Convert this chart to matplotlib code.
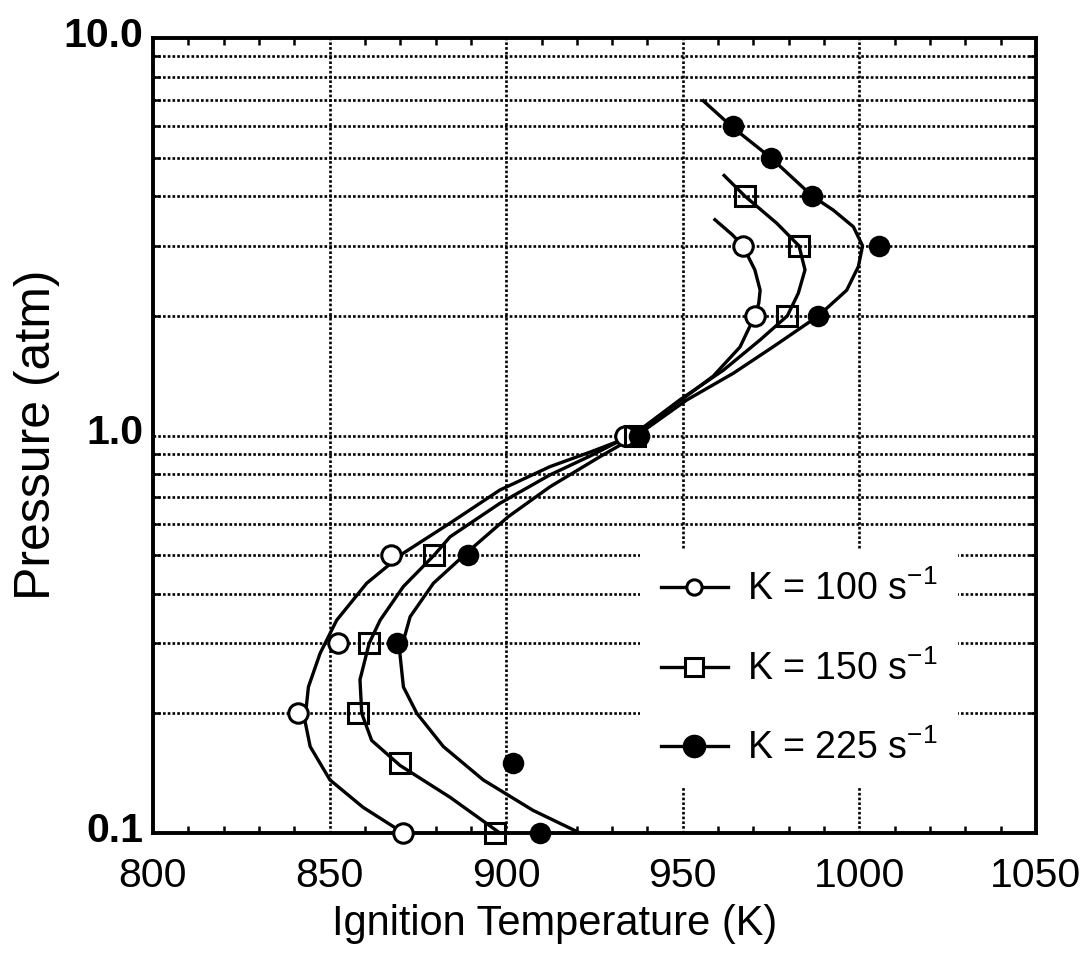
import matplotlib
matplotlib.use("Agg")
import matplotlib.pyplot as plt
from matplotlib.ticker import FixedLocator, FixedFormatter, NullFormatter
import matplotlib.transforms as mtransforms

plt.rcParams['font.family'] = ['Liberation Sans', 'DejaVu Sans']

# ---------------- data ----------------
# measured points: ignition temperature (K) vs pressure (atm)
m100_T = [967.0, 970.4, 933.5, 867.3, 852.5, 841.1, 870.9]
m100_P = [3.0, 2.0, 1.0, 0.5, 0.3, 0.2, 0.1]

m150_T = [967.6, 982.9, 979.6, 936.5, 879.6, 861.2, 858.1, 869.9, 896.8]
m150_P = [4.0, 3.0, 2.0, 1.0, 0.5, 0.3, 0.2, 0.15, 0.1]

m225_T = [964.1, 974.9, 986.7, 1005.6, 988.4, 937.5, 889.3, 869.2, 901.8, 909.6]
m225_P = [6.0, 5.0, 4.0, 3.0, 2.0, 1.0, 0.5, 0.3, 0.15, 0.1]

# computed curves
c100_T = [959.1, 964.0, 967.0, 970.4, 971.9, 971.5, 970.4, 966.2, 958.6, 948.3, 936.0,
          924.0, 912.4, 898.2, 884.1, 870.9, 860.5, 852.0, 847.3, 844.0, 843.0,
          844.5, 850.1, 859.5, 870.9]
c100_P = [3.49, 3.2, 3.0, 2.61, 2.32, 2.15, 2.0, 1.67, 1.41, 1.205, 1.0,
          0.91, 0.835, 0.729, 0.602, 0.506, 0.425, 0.343, 0.283, 0.233, 0.192,
          0.165, 0.136, 0.116, 0.1]

c150_T = [961.7, 967.6, 976.6, 982.9, 984.6, 982.7, 979.6, 971.9, 961.5, 949.2, 937.0,
          924.0, 912.4, 898.2, 884.1, 879.6, 870.9, 864.3, 861.2, 858.6, 859.1,
          861.9, 869.9, 884.1, 898.2]
c150_P = [4.51, 4.0, 3.42, 3.0, 2.61, 2.28, 2.0, 1.74, 1.46, 1.23, 1.02,
          0.89, 0.796, 0.675, 0.556, 0.5, 0.417, 0.343, 0.3, 0.243, 0.2,
          0.171, 0.148, 0.123, 0.1]

c225_T = [955.8, 964.1, 974.9, 986.7, 992.6, 998.3, 1000.9, 999.7, 996.4, 988.4,
          975.5, 964.3, 951.1, 937.0, 926.6, 912.4, 900.6, 889.7, 879.4, 872.8,
          869.9, 870.9, 874.7, 882.2, 893.5, 907.6, 920.9]
c225_P = [6.95, 5.96, 5.0, 4.0, 3.69, 3.35, 3.0, 2.66, 2.32, 2.0,
          1.67, 1.434, 1.228, 1.0, 0.885, 0.743, 0.625, 0.515, 0.425, 0.35,
          0.283, 0.233, 0.2, 0.165, 0.136, 0.114, 0.1]

labels = ["K = 100 s$^{\\mathregular{-1}}$", "K = 150 s$^{\\mathregular{-1}}$",
          "K = 225 s$^{\\mathregular{-1}}$"]

x_ticks = [800, 850, 900, 950, 1000, 1050]
x_ticklabels = ["800", "850", "900", "950", "1000", "1050"]
y_ticks = [0.1, 1.0, 10.0]
y_ticklabels = ["0.1", "1.0", "10.0"]
y_minor = [0.2, 0.3, 0.4, 0.5, 0.6, 0.7, 0.8, 0.9, 2, 3, 4, 5, 6, 7, 8, 9]
x_minor = [810, 820, 830, 840, 860, 870, 880, 890, 910, 920, 930, 940,
           960, 970, 980, 990, 1010, 1020, 1030, 1040]

# ---------------- figure ----------------
W, H = 1082, 973
fig = plt.figure(figsize=(W/100, H/100), dpi=100)
ax = fig.add_axes([153/W, 1 - 833/H, (1036-153)/W, (833-38)/H])
ax.set_yscale('log')
ax.set_xlim(800, 1050)
ax.set_ylim(0.1, 10.0)

# grid
grid_kw = dict(color='black', linestyle=(0, (1, 0.8)), linewidth=1.9, zorder=1)
for y in y_minor + [1.0]:
    ax.axhline(y, **grid_kw)
for x in [850, 900, 950, 1000]:
    ax.axvline(x, **grid_kw)

lw = 2.4
ax.plot(c100_T, c100_P, color='black', lw=lw, zorder=3, solid_joinstyle='round')
ax.plot(c150_T, c150_P, color='black', lw=lw, zorder=3, solid_joinstyle='round')
ax.plot(c225_T, c225_P, color='black', lw=lw, zorder=3, solid_joinstyle='round')

ax.plot(m100_T, m100_P, linestyle='none', marker='o', ms=14, mfc='white',
        mec='black', mew=2.2, zorder=4, clip_on=False)
ax.plot(m150_T, m150_P, linestyle='none', marker='s', ms=14.5, mfc='none',
        mec='black', mew=2.2, zorder=4, clip_on=False)
ax.plot(m225_T, m225_P, linestyle='none', marker='o', ms=14, mfc='black',
        mec='black', mew=1.5, zorder=4, clip_on=False)

# legend handles
h1, = ax.plot([], [], color='black', lw=2.4, marker='o', ms=11, mfc='white', mec='black', mew=2.2)
h2, = ax.plot([], [], color='black', lw=2.4, marker='s', ms=12.5, mfc='white', mec='black', mew=2.2)
h3, = ax.plot([], [], color='black', lw=2.4, marker='o', ms=16, mfc='black', mec='black')
leg = ax.legend([h1, h2, h3], labels, loc='lower right',
                bbox_to_anchor=(958/W, 1 - 788/H), bbox_transform=fig.transFigure,
                frameon=True, fancybox=False, edgecolor='white', framealpha=1.0,
                fontsize=27, handlelength=1.8, handletextpad=0.5,
                labelspacing=1.12, borderpad=0.55, borderaxespad=0)
leg.get_frame().set_linewidth(0)
leg.set_zorder(5)

# ticks
ax.xaxis.set_major_locator(FixedLocator(x_ticks))
ax.xaxis.set_major_formatter(FixedFormatter(x_ticklabels))
ax.xaxis.set_minor_locator(FixedLocator(x_minor))
ax.yaxis.set_major_locator(FixedLocator(y_ticks))
ax.yaxis.set_major_formatter(FixedFormatter(y_ticklabels))
ax.yaxis.set_minor_locator(FixedLocator(y_minor))
ax.yaxis.set_minor_formatter(NullFormatter())

ax.tick_params(which='both', direction='in', top=True, right=True, width=1.8)
ax.tick_params(which='major', length=0)
ax.tick_params(which='minor', length=5)
ax.tick_params(axis='x', which='major', labelsize=29.5, pad=17)
ax.tick_params(axis='y', which='major', labelsize=29.5, pad=7)
for t in ax.get_yticklabels():
    t.set_fontweight('bold')
    t.set_transform(t.get_transform() + mtransforms.ScaledTranslation(0, 6/100, fig.dpi_scale_trans))

for s in ax.spines.values():
    s.set_linewidth(2.8)

fig.text(555/W, 1 - 935/H, "Ignition Temperature (K)", fontsize=30,
         ha='center', va='baseline')
fig.text(50/W, 1 - 435/H, "Pressure (atm)", fontsize=36, rotation=90,
         rotation_mode='anchor', ha='center', va='baseline')

fig.savefig("out.png", dpi=100)
